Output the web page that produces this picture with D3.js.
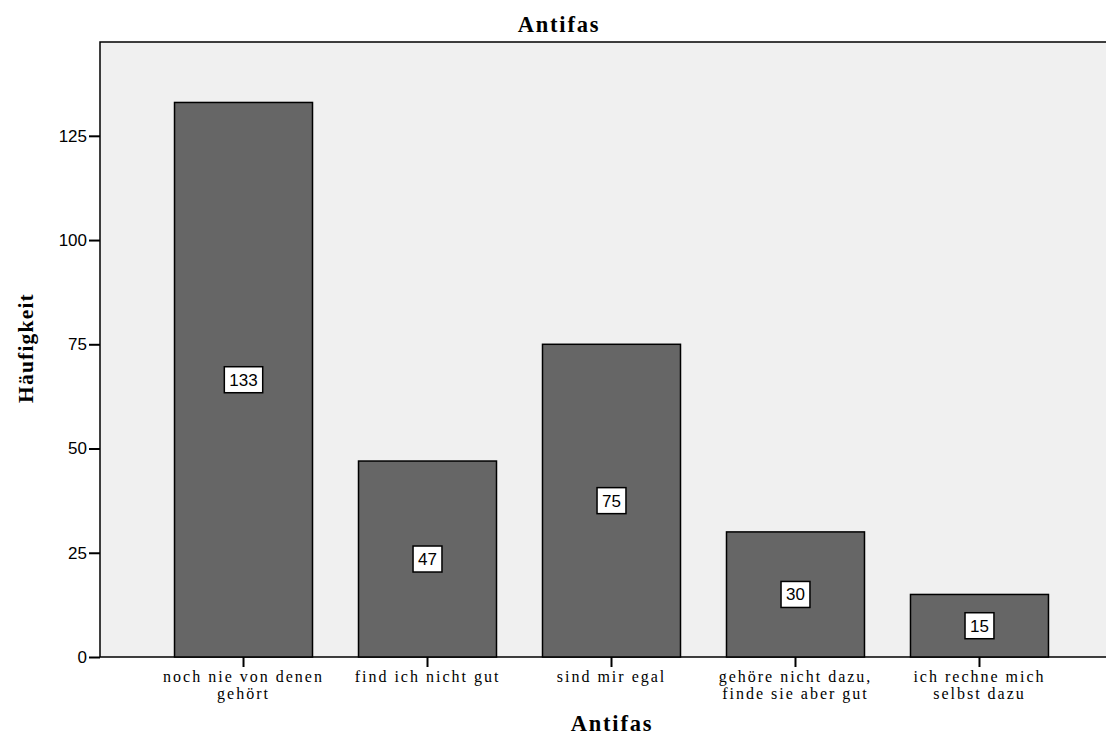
<!DOCTYPE html>
<html>
<head>
<meta charset="utf-8">
<script src="https://cdn.jsdelivr.net/npm/d3@7"></script>
<style>
  html, body { margin: 0; padding: 0; background: #fff; }
  svg { display: block; }
</style>
</head>
<body>
<svg id="chart" width="1106" height="736"></svg>
<script>
// Antifas – frequency of answers
const categories = [
  ["noch nie von denen", "gehört"],
  ["find ich nicht gut"],
  ["sind mir egal"],
  ["gehöre nicht dazu,", "finde sie aber gut"],
  ["ich rechne mich", "selbst dazu"]
];
const counts = [133, 47, 75, 30, 15];
const yTicks = [0, 25, 50, 75, 100, 125];

const svg = d3.select("#chart");
const plotLeft = 100, plotTop = 42, plotBottom = 657, plotRight = 1123;
const serif = "Liberation Serif, Times New Roman, serif";
const sans = "Liberation Sans, Arial, sans-serif";

const x = d3.scaleBand()
  .domain(d3.range(counts.length))
  .range([plotLeft, plotRight])
  .paddingInner(0.25)
  .paddingOuter(0.405);

const y = d3.scaleLinear().domain([0, 147.5]).range([plotBottom, plotTop]);

// plot background
svg.append("rect")
  .attr("x", plotLeft).attr("y", plotTop)
  .attr("width", plotRight - plotLeft).attr("height", plotBottom - plotTop)
  .attr("fill", "#f0f0f0")
  .attr("stroke", "#000").attr("stroke-width", 1.5);

// bars
svg.append("g").selectAll("rect")
  .data(counts)
  .join("rect")
  .attr("x", (d, i) => x(i))
  .attr("y", d => y(d))
  .attr("width", x.bandwidth())
  .attr("height", d => y(0) - y(d))
  .attr("fill", "#666666")
  .attr("stroke", "#000").attr("stroke-width", 1.5);

// value labels in boxes
const lab = svg.append("g").selectAll("g")
  .data(counts)
  .join("g")
  .attr("transform", (d, i) => `translate(${x(i) + x.bandwidth() / 2},${y(d / 2)})`);
lab.append("text")
  .attr("text-anchor", "middle")
  .attr("dy", "0.35em")
  .attr("font-family", sans)
  .attr("font-size", 17)
  .attr("fill", "#000")
  .text(d => d)
  .each(function () {
    const b = this.getBBox();
    d3.select(this.parentNode).insert("rect", "text")
      .attr("x", b.x - 5).attr("y", -13)
      .attr("width", b.width + 10).attr("height", 26)
      .attr("fill", "#fff").attr("stroke", "#000").attr("stroke-width", 1.5);
  });

// y axis
const yAxis = svg.append("g")
  .attr("transform", `translate(${plotLeft},0)`)
  .call(d3.axisLeft(y).tickValues(yTicks).tickSize(11).tickPadding(2));
yAxis.select(".domain").remove();
yAxis.selectAll("line").attr("stroke", "#000").attr("stroke-width", 2);
yAxis.selectAll("text")
  .attr("font-family", sans)
  .attr("font-size", 17).attr("fill", "#000");

// x axis
const xAxis = svg.append("g")
  .attr("transform", `translate(0,${plotBottom})`)
  .call(d3.axisBottom(x).tickSize(10).tickFormat(""));
xAxis.select(".domain").remove();
xAxis.selectAll("line").attr("stroke", "#000").attr("stroke-width", 2);
xAxis.selectAll(".tick").each(function (d) {
  const t = d3.select(this).append("text")
    .attr("text-anchor", "middle")
    .attr("font-family", serif)
    .attr("font-size", 16)
    .attr("letter-spacing", 2)
    .attr("fill", "#000");
  categories[d].forEach((line, k) => {
    t.append("tspan").attr("x", 0).attr("y", 25 + k * 17).text(line);
  });
});

// titles
svg.append("text")
  .attr("x", 559).attr("y", 32)
  .attr("text-anchor", "middle")
  .attr("font-family", serif)
  .attr("font-weight", "bold").attr("font-size", 22.5)
  .attr("letter-spacing", 1.8)
  .text("Antifas");

svg.append("text")
  .attr("x", 612).attr("y", 731)
  .attr("text-anchor", "middle")
  .attr("font-family", serif)
  .attr("font-weight", "bold").attr("font-size", 22.5)
  .attr("letter-spacing", 1.8)
  .text("Antifas");

svg.append("text")
  .attr("transform", "translate(33,348) rotate(-90)")
  .attr("text-anchor", "middle")
  .attr("font-family", serif)
  .attr("font-weight", "bold").attr("font-size", 21.5)
  .attr("letter-spacing", 1.2)
  .text("Häufigkeit");
</script>
</body>
</html>
